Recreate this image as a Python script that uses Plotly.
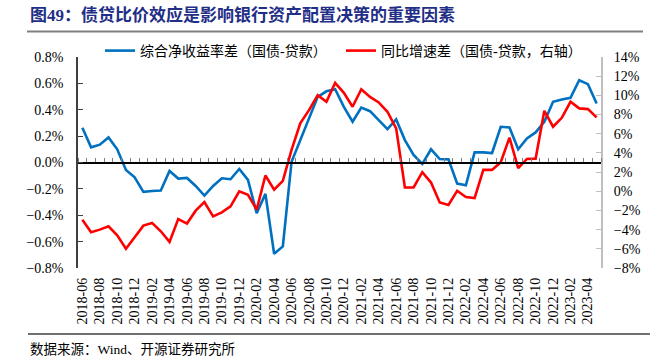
import plotly.graph_objects as go

# ---- data ----
months = [f"{y}-{m:02d}" for y in range(2018, 2024) for m in range(1, 13)]
months = months[months.index("2018-06"):months.index("2023-05") + 1]

net_yield_spread = [  # 综合净收益率差（国债-贷款）, %
    0.263, 0.115, 0.135, 0.19, 0.10, -0.057, -0.112, -0.223, -0.216, -0.213,
    -0.064, -0.122, -0.117, -0.178, -0.251, -0.178, -0.12, -0.127, -0.049, -0.132,
    -0.384, -0.238, -0.692, -0.636, 0.006, 0.17, 0.334, 0.498, 0.54, 0.556,
    0.422, 0.309, 0.417, 0.389, 0.321, 0.253, 0.327, 0.17, 0.057, -0.011,
    0.10, 0.026, 0.024, -0.16, -0.173, 0.077, 0.077, 0.072, 0.271, 0.266,
    0.10, 0.183, 0.228, 0.309, 0.46, 0.478, 0.49, 0.624, 0.594, 0.448,
]
yoy_growth_spread = [  # 同比增速差（国债-贷款，右轴）, %
    -2.96, -4.27, -4.0, -3.65, -4.59, -6.0, -4.8, -3.58, -3.3, -4.17,
    -5.28, -2.89, -3.37, -2.02, -1.12, -2.61, -2.2, -1.58, 0.0, -0.36,
    -1.92, 1.64, 0.16, 1.09, 4.31, 7.08, 8.46, 10.02, 9.33, 11.3,
    10.26, 8.81, 10.64, 9.84, 9.26, 8.29, 6.56, 0.4, 0.4, 1.99,
    0.91, -1.16, -1.43, 0.05, -0.6, -0.71, 2.23, 2.23, 3.03, 5.59,
    2.41, 3.37, 3.4, 8.39, 6.73, 7.66, 9.33, 8.64, 8.57, 7.7,
]
xtick_labels = months[::2]

title_text = "图49：债贷比价效应是影响银行资产配置决策的重要因素"
source_text = "数据来源：Wind、开源证券研究所"
name_blue = "综合净收益率差（国债-贷款）"
name_red = "同比增速差（国债-贷款，右轴）"

SERIF = "Liberation Serif, Noto Sans CJK SC"
CJK = "Liberation Serif, Noto Sans CJK SC"

fig = go.Figure()
fig.add_trace(go.Scatter(x=months, y=net_yield_spread, name=name_blue, mode="lines",
                         line=dict(color="#0070C0", width=2.6), xaxis="x", yaxis="y",
                         legend="legend"))
fig.add_trace(go.Scatter(x=months, y=yoy_growth_spread, name=name_red, mode="lines",
                         line=dict(color="#FF0000", width=2.6), xaxis="x2", yaxis="y2",
                         legend="legend2"))

W, H = 668, 360
L, R, T, B = 78, 67, 57, 92
pw, ph = W - L - R, H - T - B

def px(xp):
    return (xp - L) / pw

def py(yp):
    return (H - B - yp) / ph

fig.update_layout(
    width=W, height=H,
    margin=dict(l=L, r=R, t=T, b=B, pad=0, autoexpand=False),
    paper_bgcolor="white", plot_bgcolor="white",
    font=dict(family=SERIF, size=14, color="black"),
    xaxis=dict(type="category", categoryorder="array", categoryarray=months,
               range=[-0.5, len(months) - 0.5], domain=[0, 1], automargin=False,
               tickmode="array", tickvals=xtick_labels, ticktext=xtick_labels,
               tickangle=-90, ticks="", showline=False, showgrid=False, zeroline=False,
               tickfont=dict(family=SERIF, size=14), ticklabelstandoff=6),
    xaxis2=dict(type="category", categoryorder="array", categoryarray=months,
                range=[-0.5, len(months) - 0.5], overlaying="x", anchor="free",
                position=0.5, side="top", tickson="boundaries", dtick=1, automargin=False,
                ticks="outside", ticklen=4, tickcolor="#808080", tickwidth=1,
                showticklabels=False, showline=True, linecolor="black", linewidth=1.5,
                showgrid=False, zeroline=False),
    yaxis=dict(range=[-0.8, 0.8], dtick=0.2, tickformat=".1f", ticksuffix="%",
               domain=[0, 1], ticks="inside", ticklen=5, tickcolor="#404040",
               showline=True, linecolor="#404040", linewidth=1.5, showgrid=False,
               zeroline=False, tickfont=dict(family=SERIF, size=14), ticklabelstandoff=10,
               automargin=False),
    yaxis2=dict(range=[-8, 14], dtick=2, tickformat="d", ticksuffix="%",
                overlaying="y", side="right", anchor="x", ticks="inside", ticklen=5,
                tickcolor="#BFBFBF", showline=True, linecolor="#BFBFBF", linewidth=2,
                showgrid=False, zeroline=False, tickfont=dict(family=SERIF, size=14),
                ticklabelstandoff=8, automargin=False),
    legend=dict(xref="container", yref="container", x=100 / W, y=1 - 51 / H,
                xanchor="left", yanchor="middle",
                orientation="h", bgcolor="rgba(0,0,0,0)",
                font=dict(family=CJK, size=14, color="black")),
    legend2=dict(xref="container", yref="container", x=341 / W, y=1 - 51 / H,
                 xanchor="left", yanchor="middle",
                 orientation="h", bgcolor="rgba(0,0,0,0)",
                 font=dict(family=CJK, size=14, color="black")),
    showlegend=True,
)

fig.add_annotation(text=f"<b>{title_text}</b>", xref="paper", yref="paper",
                   x=px(28), y=py(15), xanchor="left", yanchor="middle", showarrow=False,
                   font=dict(family=SERIF, size=17, color="#1F2E86"))
fig.add_annotation(text=source_text, xref="paper", yref="paper",
                   x=px(28), y=py(349), xanchor="left", yanchor="middle", showarrow=False,
                   font=dict(family=CJK, size=13.5, color="black"))
fig.add_shape(type="line", xref="paper", yref="paper", x0=px(27), x1=px(643),
              y0=py(31.5), y1=py(31.5), line=dict(color="#808080", width=2))
fig.add_shape(type="line", xref="paper", yref="paper", x0=px(28), x1=px(650),
              y0=py(334), y1=py(334), line=dict(color="#404040", width=1.5))

fig.write_html("out.html", config={"displayModeBar": False},
               post_script="document.body.style.margin='0';document.body.style.overflow='hidden';")
